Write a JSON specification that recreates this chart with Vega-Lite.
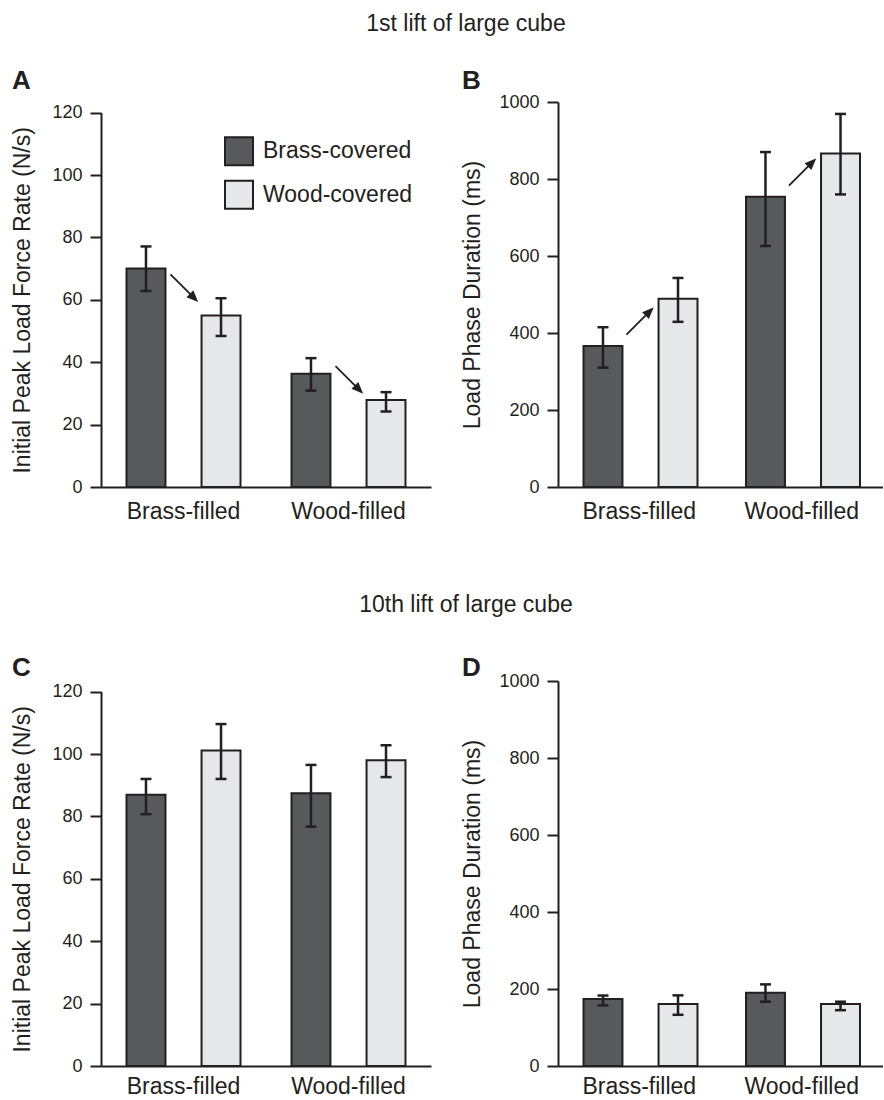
{
  "$schema": "https://vega.github.io/schema/vega-lite/v6.json",
  "background": "white",
  "padding": {"left": 11, "top": 13, "right": 0, "bottom": 0},
  "config": {
    "font": "Liberation Sans",
    "view": {"stroke": null},
    "title": {"font": "Liberation Sans", "color": "#231f20"},
    "axis": {
      "grid": false,
      "labelFont": "Liberation Sans",
      "titleFont": "Liberation Sans",
      "labelColor": "#231f20",
      "titleColor": "#231f20",
      "domainColor": "#231f20",
      "tickColor": "#231f20",
      "titleFontWeight": "normal",
      "titleFontSize": 23,
      "domainWidth": 2,
      "tickWidth": 2
    },
    "axisY": {"labelFontSize": 18, "tickSize": 11, "labelPadding": 8, "titlePadding": 17},
    "axisX": {"ticks": false, "tickSize": 0, "labelFontSize": 23, "labelPadding": 13, "labelAngle": 0, "title": null}
  },
  "datasets": {
    "bars": [
      {"panel": "A", "filled": "Brass-filled", "covered": "Brass-covered", "mean": 70.0, "lo": 62.8, "hi": 77.1},
      {"panel": "A", "filled": "Brass-filled", "covered": "Wood-covered", "mean": 55.0, "lo": 48.4, "hi": 60.5},
      {"panel": "A", "filled": "Wood-filled", "covered": "Brass-covered", "mean": 36.3, "lo": 30.9, "hi": 41.3},
      {"panel": "A", "filled": "Wood-filled", "covered": "Wood-covered", "mean": 27.9, "lo": 24.2, "hi": 30.4},
      {"panel": "B", "filled": "Brass-filled", "covered": "Brass-covered", "mean": 366, "lo": 310, "hi": 415},
      {"panel": "B", "filled": "Brass-filled", "covered": "Wood-covered", "mean": 489, "lo": 429, "hi": 543},
      {"panel": "B", "filled": "Wood-filled", "covered": "Brass-covered", "mean": 754, "lo": 626, "hi": 870},
      {"panel": "B", "filled": "Wood-filled", "covered": "Wood-covered", "mean": 866, "lo": 760, "hi": 969},
      {"panel": "C", "filled": "Brass-filled", "covered": "Brass-covered", "mean": 86.9, "lo": 80.7, "hi": 92.0},
      {"panel": "C", "filled": "Brass-filled", "covered": "Wood-covered", "mean": 101.1, "lo": 92.0, "hi": 109.6},
      {"panel": "C", "filled": "Wood-filled", "covered": "Brass-covered", "mean": 87.4, "lo": 76.7, "hi": 96.5},
      {"panel": "C", "filled": "Wood-filled", "covered": "Wood-covered", "mean": 98.0, "lo": 92.6, "hi": 102.8},
      {"panel": "D", "filled": "Brass-filled", "covered": "Brass-covered", "mean": 174, "lo": 157.5, "hi": 183},
      {"panel": "D", "filled": "Brass-filled", "covered": "Wood-covered", "mean": 161, "lo": 133, "hi": 183.5},
      {"panel": "D", "filled": "Wood-filled", "covered": "Brass-covered", "mean": 190.5, "lo": 167, "hi": 212},
      {"panel": "D", "filled": "Wood-filled", "covered": "Wood-covered", "mean": 161, "lo": 145, "hi": 167}
    ],
    "arrows": [
      {"panel": "A", "filled": "Brass-filled", "y": 64.0},
      {"panel": "A", "filled": "Wood-filled", "y": 34.6},
      {"panel": "B", "filled": "Brass-filled", "y": 429},
      {"panel": "B", "filled": "Wood-filled", "y": 816}
    ]
  },
  "resolve": {"scale": {"fill": "independent"}, "legend": {"fill": "independent"}},
  "spacing": 71,
  "vconcat": [
    {
      "title": {"text": "1st lift of large cube", "anchor": "middle", "fontSize": 23, "fontWeight": "normal", "offset": 31.7, "dx": 18.5},
      "resolve": {"scale": {"fill": "independent"}, "legend": {"fill": "independent"}},
      "spacing": 30,
      "hconcat": [
        {
          "title": {"text": "A", "anchor": "start", "frame": "bounds", "fontSize": 26, "fontWeight": "bold", "offset": 8},
          "width": 330,
          "height": 385,
          "data": {"name": "bars"},
          "transform": [{"filter": "datum.panel === 'A'"}],
          "encoding": {
            "x": {"field": "filled", "type": "nominal", "sort": ["Brass-filled", "Wood-filled"], "scale": {"paddingInner": 0, "paddingOuter": 0}}
          },
          "layer": [
            {
              "mark": {"type": "bar", "stroke": "#231f20", "strokeWidth": 2},
              "encoding": {
                "xOffset": {"field": "covered", "type": "nominal", "sort": ["Brass-covered", "Wood-covered"], "scale": {"paddingInner": 0.481, "paddingOuter": 0.34}},
                "y": {"field": "mean", "type": "quantitative", "scale": {"domain": [0, 120], "rangeMax": 10.6}, "title": "Initial Peak Load Force Rate (N/s)", "axis": {"values": [0, 20, 40, 60, 80, 100, 120]}},
                "fill": {"field": "covered", "type": "nominal", "scale": {"domain": ["Brass-covered", "Wood-covered"], "range": ["#58595b", "#e6e7e8"]},
                  "legend": {"orient": "none", "legendX": 123, "legendY": 34.3, "title": null, "padding": 0, "symbolType": "square", "symbolSize": 784, "symbolStrokeColor": "#231f20", "symbolStrokeWidth": 2, "symbolOpacity": 1, "labelFontSize": 23, "labelFont": "Liberation Sans", "labelColor": "#231f20", "labelOffset": 9, "rowPadding": 7.5, "labelLimit": 300}}
              }
            },
            {
              "mark": {"type": "rule", "color": "#231f20", "strokeWidth": 2.5},
              "encoding": {
                "xOffset": {"field": "covered", "type": "nominal", "sort": ["Brass-covered", "Wood-covered"], "scale": {"paddingInner": 0.481, "paddingOuter": 0.34}},
                "y": {"field": "lo", "type": "quantitative", "scale": {"domain": [0, 120], "rangeMax": 10.6}, "title": "Initial Peak Load Force Rate (N/s)"},
                "y2": {"field": "hi"}
              }
            },
            {
              "mark": {"type": "tick", "color": "#231f20", "thickness": 2.5, "size": 11, "opacity": 1},
              "encoding": {
                "xOffset": {"field": "covered", "type": "nominal", "sort": ["Brass-covered", "Wood-covered"], "scale": {"paddingInner": 0.481, "paddingOuter": 0.34}},
                "y": {"field": "lo", "type": "quantitative", "scale": {"domain": [0, 120], "rangeMax": 10.6}, "title": "Initial Peak Load Force Rate (N/s)"}
              }
            },
            {
              "mark": {"type": "tick", "color": "#231f20", "thickness": 2.5, "size": 11, "opacity": 1},
              "encoding": {
                "xOffset": {"field": "covered", "type": "nominal", "sort": ["Brass-covered", "Wood-covered"], "scale": {"paddingInner": 0.481, "paddingOuter": 0.34}},
                "y": {"field": "hi", "type": "quantitative", "scale": {"domain": [0, 120], "rangeMax": 10.6}, "title": "Initial Peak Load Force Rate (N/s)"}
              }
            },
            {
              "data": {"name": "arrows"},
              "transform": [{"filter": "datum.panel === 'A'"}],
              "mark": {"type": "point", "shape": "M-1,-1L0.6,0.6M1,1L0.73,0.35L0.35,0.73Z", "size": 676, "filled": true, "fill": "#231f20", "stroke": "#231f20", "strokeWidth": 1.8, "opacity": 1},
              "encoding": {
                "y": {"field": "y", "type": "quantitative", "scale": {"domain": [0, 120], "rangeMax": 10.6}, "title": "Initial Peak Load Force Rate (N/s)"}
              }
            }
          ]
        },
        {
          "title": {"text": "B", "anchor": "start", "frame": "bounds", "fontSize": 26, "fontWeight": "bold", "offset": -1},
          "width": 325,
          "height": 385,
          "data": {"name": "bars"},
          "transform": [{"filter": "datum.panel === 'B'"}],
          "encoding": {
            "x": {"field": "filled", "type": "nominal", "sort": ["Brass-filled", "Wood-filled"], "scale": {"paddingInner": 0, "paddingOuter": 0}}
          },
          "layer": [
            {
              "mark": {"type": "bar", "stroke": "#231f20", "strokeWidth": 2},
              "encoding": {
                "xOffset": {"field": "covered", "type": "nominal", "sort": ["Brass-covered", "Wood-covered"], "scale": {"paddingInner": 0.48, "paddingOuter": 0.33}},
                "y": {"field": "mean", "type": "quantitative", "scale": {"domain": [0, 1000]}, "title": "Load Phase Duration (ms)", "axis": {"values": [0, 200, 400, 600, 800, 1000], "format": "d", "titlePadding": 14}},
                "fill": {"field": "covered", "type": "nominal", "scale": {"domain": ["Brass-covered", "Wood-covered"], "range": ["#58595b", "#e6e7e8"]}, "legend": null}
              }
            },
            {
              "mark": {"type": "rule", "color": "#231f20", "strokeWidth": 2.5},
              "encoding": {
                "xOffset": {"field": "covered", "type": "nominal", "sort": ["Brass-covered", "Wood-covered"], "scale": {"paddingInner": 0.48, "paddingOuter": 0.33}},
                "y": {"field": "lo", "type": "quantitative", "scale": {"domain": [0, 1000]}, "title": "Load Phase Duration (ms)"},
                "y2": {"field": "hi"}
              }
            },
            {
              "mark": {"type": "tick", "color": "#231f20", "thickness": 2.5, "size": 11, "opacity": 1},
              "encoding": {
                "xOffset": {"field": "covered", "type": "nominal", "sort": ["Brass-covered", "Wood-covered"], "scale": {"paddingInner": 0.48, "paddingOuter": 0.33}},
                "y": {"field": "lo", "type": "quantitative", "scale": {"domain": [0, 1000]}, "title": "Load Phase Duration (ms)"}
              }
            },
            {
              "mark": {"type": "tick", "color": "#231f20", "thickness": 2.5, "size": 11, "opacity": 1},
              "encoding": {
                "xOffset": {"field": "covered", "type": "nominal", "sort": ["Brass-covered", "Wood-covered"], "scale": {"paddingInner": 0.48, "paddingOuter": 0.33}},
                "y": {"field": "hi", "type": "quantitative", "scale": {"domain": [0, 1000]}, "title": "Load Phase Duration (ms)"}
              }
            },
            {
              "data": {"name": "arrows"},
              "transform": [{"filter": "datum.panel === 'B'"}],
              "mark": {"type": "point", "shape": "M-1,1L0.6,-0.6M1,-1L0.35,-0.73L0.73,-0.35Z", "size": 650, "filled": true, "fill": "#231f20", "stroke": "#231f20", "strokeWidth": 1.8, "opacity": 1},
              "encoding": {
                "y": {"field": "y", "type": "quantitative", "scale": {"domain": [0, 1000]}, "title": "Load Phase Duration (ms)"}
              }
            }
          ]
        }
      ]
    },
    {
      "title": {"text": "10th lift of large cube", "anchor": "middle", "fontSize": 23, "fontWeight": "normal", "offset": 38, "dx": 18.5},
      "resolve": {"scale": {"fill": "independent"}, "legend": {"fill": "independent"}},
      "spacing": 30,
      "hconcat": [
        {
          "title": {"text": "C", "anchor": "start", "frame": "bounds", "fontSize": 26, "fontWeight": "bold", "offset": 0},
          "width": 330,
          "height": 385,
          "data": {"name": "bars"},
          "transform": [{"filter": "datum.panel === 'C'"}],
          "encoding": {
            "x": {"field": "filled", "type": "nominal", "sort": ["Brass-filled", "Wood-filled"], "scale": {"paddingInner": 0, "paddingOuter": 0}, "axis": {"labelPadding": 9}}
          },
          "layer": [
            {
              "mark": {"type": "bar", "stroke": "#231f20", "strokeWidth": 2},
              "encoding": {
                "xOffset": {"field": "covered", "type": "nominal", "sort": ["Brass-covered", "Wood-covered"], "scale": {"paddingInner": 0.481, "paddingOuter": 0.34}},
                "y": {"field": "mean", "type": "quantitative", "scale": {"domain": [0, 120], "rangeMax": 10.6}, "title": "Initial Peak Load Force Rate (N/s)", "axis": {"values": [0, 20, 40, 60, 80, 100, 120]}},
                "fill": {"field": "covered", "type": "nominal", "scale": {"domain": ["Brass-covered", "Wood-covered"], "range": ["#58595b", "#e6e7e8"]}, "legend": null}
              }
            },
            {
              "mark": {"type": "rule", "color": "#231f20", "strokeWidth": 2.5},
              "encoding": {
                "xOffset": {"field": "covered", "type": "nominal", "sort": ["Brass-covered", "Wood-covered"], "scale": {"paddingInner": 0.481, "paddingOuter": 0.34}},
                "y": {"field": "lo", "type": "quantitative", "scale": {"domain": [0, 120], "rangeMax": 10.6}, "title": "Initial Peak Load Force Rate (N/s)"},
                "y2": {"field": "hi"}
              }
            },
            {
              "mark": {"type": "tick", "color": "#231f20", "thickness": 2.5, "size": 11, "opacity": 1},
              "encoding": {
                "xOffset": {"field": "covered", "type": "nominal", "sort": ["Brass-covered", "Wood-covered"], "scale": {"paddingInner": 0.481, "paddingOuter": 0.34}},
                "y": {"field": "lo", "type": "quantitative", "scale": {"domain": [0, 120], "rangeMax": 10.6}, "title": "Initial Peak Load Force Rate (N/s)"}
              }
            },
            {
              "mark": {"type": "tick", "color": "#231f20", "thickness": 2.5, "size": 11, "opacity": 1},
              "encoding": {
                "xOffset": {"field": "covered", "type": "nominal", "sort": ["Brass-covered", "Wood-covered"], "scale": {"paddingInner": 0.481, "paddingOuter": 0.34}},
                "y": {"field": "hi", "type": "quantitative", "scale": {"domain": [0, 120], "rangeMax": 10.6}, "title": "Initial Peak Load Force Rate (N/s)"}
              }
            }
          ]
        },
        {
          "title": {"text": "D", "anchor": "start", "frame": "bounds", "fontSize": 26, "fontWeight": "bold", "offset": -9},
          "width": 325,
          "height": 385,
          "data": {"name": "bars"},
          "transform": [{"filter": "datum.panel === 'D'"}],
          "encoding": {
            "x": {"field": "filled", "type": "nominal", "sort": ["Brass-filled", "Wood-filled"], "scale": {"paddingInner": 0, "paddingOuter": 0}, "axis": {"labelPadding": 9}}
          },
          "layer": [
            {
              "mark": {"type": "bar", "stroke": "#231f20", "strokeWidth": 2},
              "encoding": {
                "xOffset": {"field": "covered", "type": "nominal", "sort": ["Brass-covered", "Wood-covered"], "scale": {"paddingInner": 0.48, "paddingOuter": 0.33}},
                "y": {"field": "mean", "type": "quantitative", "scale": {"domain": [0, 1000]}, "title": "Load Phase Duration (ms)", "axis": {"values": [0, 200, 400, 600, 800, 1000], "format": "d", "titlePadding": 14}},
                "fill": {"field": "covered", "type": "nominal", "scale": {"domain": ["Brass-covered", "Wood-covered"], "range": ["#58595b", "#e6e7e8"]}, "legend": null}
              }
            },
            {
              "mark": {"type": "rule", "color": "#231f20", "strokeWidth": 2.5},
              "encoding": {
                "xOffset": {"field": "covered", "type": "nominal", "sort": ["Brass-covered", "Wood-covered"], "scale": {"paddingInner": 0.48, "paddingOuter": 0.33}},
                "y": {"field": "lo", "type": "quantitative", "scale": {"domain": [0, 1000]}, "title": "Load Phase Duration (ms)"},
                "y2": {"field": "hi"}
              }
            },
            {
              "mark": {"type": "tick", "color": "#231f20", "thickness": 2.5, "size": 11, "opacity": 1},
              "encoding": {
                "xOffset": {"field": "covered", "type": "nominal", "sort": ["Brass-covered", "Wood-covered"], "scale": {"paddingInner": 0.48, "paddingOuter": 0.33}},
                "y": {"field": "lo", "type": "quantitative", "scale": {"domain": [0, 1000]}, "title": "Load Phase Duration (ms)"}
              }
            },
            {
              "mark": {"type": "tick", "color": "#231f20", "thickness": 2.5, "size": 11, "opacity": 1},
              "encoding": {
                "xOffset": {"field": "covered", "type": "nominal", "sort": ["Brass-covered", "Wood-covered"], "scale": {"paddingInner": 0.48, "paddingOuter": 0.33}},
                "y": {"field": "hi", "type": "quantitative", "scale": {"domain": [0, 1000]}, "title": "Load Phase Duration (ms)"}
              }
            }
          ]
        }
      ]
    }
  ]
}
